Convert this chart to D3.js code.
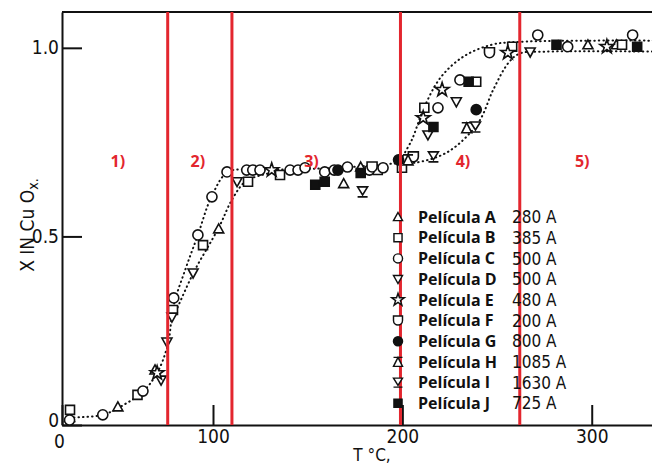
<!DOCTYPE html>
<html>
<head>
<meta charset="utf-8">
<script src="https://cdn.jsdelivr.net/npm/d3@7"></script>
<style>
  body { margin: 0; background: #fff; }
  .tick text { font-family: 'Liberation Sans Narrow', 'DejaVu Sans Condensed', sans-serif; fill: #111; }
</style>
</head>
<body>
<svg id="chart" width="652" height="467"></svg>
<script>
// film series: [T in °C, x in CuOx]
const filmA = [[5, 0.02], [37, 0.048], [61.6, 0.146], [103, 0.52], [169, 0.64], [178, 0.684], [298, 1.008], [313, 1.008]];
const filmB = [[5.3, 0.04], [50, 0.08], [73.5, 0.305], [93.4, 0.477], [118.5, 0.645], [135.4, 0.663], [187, 0.676], [199.8, 0.682], [211.6, 0.841], [239, 0.91], [258, 1.003], [316, 1.008]];
const filmC = [[5, 0.013], [27, 0.027], [53.6, 0.09], [74, 0.337], [90, 0.504], [99.3, 0.605], [107.4, 0.671], [117.8, 0.676], [121, 0.676], [124.8, 0.676], [140.7, 0.676], [144.9, 0.676], [148.6, 0.682], [159, 0.671], [164, 0.676], [171, 0.684], [182.6, 0.676], [189.8, 0.682], [218.8, 0.841], [230.4, 0.915], [271.5, 1.034], [287.3, 1.003], [321.6, 1.034]];
const filmD = [[65.6, 0.119], [69.5, 0.22], [72.8, 0.286], [86.8, 0.403], [112.7, 0.645], [213.5, 0.769], [228.5, 0.857], [267.5, 0.989]];
const filmE = [[63, 0.138], [131, 0.676], [211, 0.814], [221, 0.889], [255.7, 0.987], [308, 1.003]];
const filmF = [[184, 0.684], [205.8, 0.711], [246, 0.987]];
const filmG = [[166, 0.676], [198, 0.703], [239, 0.836]];
const filmH = [[203, 0.703], [234, 0.788]];
const filmI = [[179, 0.618], [216.4, 0.711], [238.6, 0.79]];
const filmJ = [[154, 0.637], [159, 0.645], [178, 0.668], [216.4, 0.79], [235, 0.91], [281.4, 1.008], [324, 1.003]];

const filmNames = ['Película A', 'Película B', 'Película C', 'Película D', 'Película E',
  'Película F', 'Película G', 'Película H', 'Película I', 'Película J'];
const filmThickness = ['280 A', '385 A', '500 A', '500 A', '480 A', '200 A', '800 A', '1085 A', '1630 A', '725 A'];

// dotted guide curves
const curveLowFast = [[5, 0.02], [27, 0.027], [42, 0.056], [54, 0.09], [63, 0.138], [70, 0.212], [74, 0.318], [82, 0.416], [90, 0.504], [99, 0.605], [108, 0.671], [125, 0.676], [167, 0.682], [199, 0.695]];
const curveLowSlow = [[73, 0.279], [87, 0.403], [103, 0.523], [110, 0.597], [117, 0.645], [126, 0.663], [135, 0.671]];
const curveHighFast = [[199, 0.703], [205, 0.756], [211, 0.836], [220, 0.92], [232, 0.976], [247, 1.008], [262, 1.016], [335, 1.019]];
const curveHighSlow = [[199, 0.698], [206, 0.695], [224, 0.724], [240, 0.801], [248, 0.889], [256, 0.96], [262, 0.985], [276, 0.99], [335, 0.99]];

const stageTemps = [70, 110, 199, 262];
const stageLabels = ['1)', '2)', '3)', '4)', '5)'];
const stageLabelTemps = [37, 90, 152, 232, 295];

const xTicks = [0, 100, 200, 300];
const yTicks = [0, 0.5, 1.0];

const series = [filmA, filmB, filmC, filmD, filmE, filmF, filmG, filmH, filmI, filmJ];
const shapes = ['tri', 'square', 'circle', 'triDown', 'star', 'cup', 'dot', 'triBar', 'triDownBar', 'block'];

const svg = d3.select('#chart');
const red = '#e3262e';
const scanFont = "'Liberation Sans Narrow', 'DejaVu Sans Condensed', sans-serif";

// the scanned axis is squeezed between 0 and 100
const x = d3.scaleLinear()
  .domain([0, 100, 335])
  .range([62, 213, 658]);

const y = d3.scaleLinear()
  .domain([0, 1.095])
  .range([425, 12]);

function markerPath(shape) {
  const r = 5;
  switch (shape) {
    case 'tri': return `M0,${-r}L${r},${r * 0.8}L${-r},${r * 0.8}Z`;
    case 'triDown': return `M${-r},${-r * 0.8}L${r},${-r * 0.8}L0,${r}Z`;
    case 'square':
    case 'block': return `M-4.5,-4.5H4.5V4.5H-4.5Z`;
    case 'circle':
    case 'dot': return d3.symbol(d3.symbolCircle, 80)();
    case 'star': return d3.symbol(d3.symbolStar, 60)();
    case 'cup': return `M${-r},${-r}H${r}V0A${r},${r} 0 0 1 ${-r},0Z`;
    case 'triBar': return `M${-r},${-r}H${r}M0,${-r}L${r},${r}L${-r},${r}Z`;
    case 'triDownBar': return `M${-r},${-r}L${r},${-r}L0,${r * 0.6}Z M${-r},${r}H${r}`;
  }
}
const filled = (shape) => shape === 'dot' || shape === 'block';

// frame top line
svg.append('line')
  .attr('x1', x(0)).attr('x2', 652)
  .attr('y1', y(1.095)).attr('y2', y(1.095))
  .attr('stroke', '#111').attr('stroke-width', 2);

const bottomAxis = d3.axisBottom(x)
  .tickValues(xTicks)
  .tickSizeInner(-20)
  .tickSizeOuter(0)
  .tickPadding(5)
  .tickFormat(d3.format('d'));
const gx = svg.append('g')
  .attr('transform', `translate(0, ${y(0)})`)
  .call(bottomAxis);
gx.selectAll('text').attr('font-size', 19);

const leftAxis = d3.axisLeft(y)
  .tickValues(yTicks)
  .tickSizeInner(-20)
  .tickSizeOuter(0)
  .tickPadding(3)
  .tickFormat((d) => d === 0 ? '0' : d3.format('.1f')(d));
const gy = svg.append('g')
  .attr('transform', `translate(${x(0)}, 0)`)
  .call(leftAxis);
gy.selectAll('text').attr('font-size', 19);
gy.select('.tick text').attr('dy', '0.1em');

svg.selectAll('.domain, .tick line').attr('stroke', '#111').attr('stroke-width', 2);
gx.select('.tick text').attr('dx', -3).attr('dy', '0.95em');

// axis titles
const ylabel = svg.append('text')
  .attr('transform', `translate(34, ${y(0.53)}) rotate(-90)`)
  .attr('text-anchor', 'middle')
  .attr('font-family', scanFont)
  .attr('font-size', 19)
  .attr('fill', '#111');
ylabel.append('tspan').text('X IN Cu O');
ylabel.append('tspan').text('x.').attr('font-size', 14).attr('dy', 4);

svg.append('text')
  .text('T °C,')
  .attr('x', 372).attr('y', 461)
  .attr('text-anchor', 'middle')
  .attr('font-family', scanFont)
  .attr('font-size', 17)
  .attr('fill', '#111');

// dotted curves
const line = d3.line()
  .x((d) => x(d[0]))
  .y((d) => y(d[1]))
  .curve(d3.curveCatmullRom);
svg.append('g')
  .selectAll('path')
  .data([curveLowFast, curveLowSlow, curveHighFast, curveHighSlow])
  .enter()
  .append('path')
  .attr('d', line)
  .attr('fill', 'none')
  .attr('stroke', '#111')
  .attr('stroke-width', 2)
  .attr('stroke-linecap', 'round')
  .attr('stroke-dasharray', '0.5,4');

// data markers
series.forEach((pts, i) => {
  svg.append('g')
    .selectAll('path')
    .data(pts)
    .enter()
    .append('path')
    .attr('transform', (d) => `translate(${x(d[0])}, ${y(d[1])})`)
    .attr('d', markerPath(shapes[i]))
    .attr('fill', filled(shapes[i]) ? '#111' : '#fff')
    .attr('stroke', '#111')
    .attr('stroke-width', 1.6);
});

// red stage lines
svg.append('g')
  .selectAll('line')
  .data(stageTemps)
  .enter()
  .append('line')
  .attr('x1', (d) => x(d)).attr('x2', (d) => x(d))
  .attr('y1', y(1.095)).attr('y2', y(0))
  .attr('stroke', red)
  .attr('stroke-width', 3);

svg.append('g')
  .selectAll('text')
  .data(stageLabels)
  .enter()
  .append('text')
  .text((d) => d)
  .attr('x', (d, i) => x(stageLabelTemps[i]))
  .attr('y', y(0.70))
  .attr('dy', '0.35em')
  .attr('text-anchor', 'middle')
  .attr('font-family', "'Open Sans', sans-serif")
  .attr('font-weight', 700)
  .attr('font-size', 16)
  .attr('fill', red);

// legend
const legend = svg.append('g').attr('transform', 'translate(398, 217)');
const rows = legend.selectAll('g')
  .data(filmNames)
  .enter()
  .append('g')
  .attr('transform', (d, i) => `translate(0, ${i * 20.7})`);
rows.append('path')
  .attr('d', (d, i) => markerPath(shapes[i]))
  .attr('transform', 'scale(0.9)')
  .attr('fill', (d, i) => filled(shapes[i]) ? '#111' : '#fff')
  .attr('stroke', '#111')
  .attr('stroke-width', 1.6);
rows.append('text')
  .text((d) => d)
  .attr('x', 20)
  .attr('dy', '0.36em')
  .attr('font-family', "'Open Sans', sans-serif")
  .attr('font-weight', 700)
  .attr('font-size', 16)
  .attr('fill', '#111');
rows.append('text')
  .text((d, i) => filmThickness[i])
  .attr('x', 114)
  .attr('dy', '0.36em')
  .attr('font-family', scanFont)
  .attr('font-size', 17)
  .attr('fill', '#111');
</script>
</body>
</html>
